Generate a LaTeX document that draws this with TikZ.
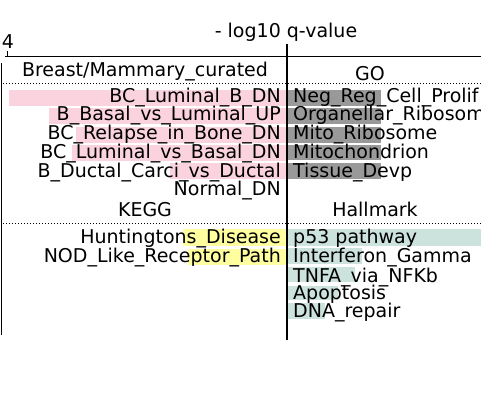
\documentclass[tikz,border=0pt]{standalone}
\usepackage{fontspec}
\setmainfont{DejaVu Sans}
\definecolor{pinkbar}{RGB}{250,211,223}
\definecolor{graybar}{RGB}{153,153,153}
\definecolor{yellowbar}{RGB}{255,255,160}
\definecolor{tealbar}{RGB}{204,227,221}
\begin{document}
\begin{tikzpicture}[x=1pt,y=-1pt,
	lbl/.style={inner sep=0pt,font=\fontsize{19}{19}\selectfont},
	rlbl/.style={lbl,anchor=base east},
	llbl/.style={lbl,anchor=base west},
	hdr/.style={lbl,anchor=base},
	sep/.style={dotted,line width=1pt}]
\clip (0,0) rectangle (481,410);
% bars
\foreach \l/\t/\b in {9/90/106,49/108/124,76/127/143,72/145/161,170/163/179}
	\fill[pinkbar] (\l,\t) rectangle (287,\b);
\foreach \t/\b in {90/106,108/124,127/143,145/160,163/179}
	\fill[graybar] (287,\t) rectangle (381,\b);
\foreach \l/\t/\b in {183/229/246,188/249/265}
	\fill[yellowbar] (\l,\t) rectangle (287,\b);
\foreach \r/\t/\b in {481/229/246,362/248/264,355/267/282,338/286/300,325/303/319}
	\fill[tealbar] (287,\t) rectangle (\r,\b);
% axis
\coordinate (tl) at (5,56.5);
\coordinate (tr) at (481,56.5);
\coordinate (tk) at (7,51);
\coordinate (tkb) at (7,57);
\coordinate (ct) at (287,44);
\coordinate (cb) at (287,340);
\coordinate (lt) at (1.5,63);
\coordinate (lb) at (1.5,335);
\draw[line width=1.5pt] (tl) -- (tr);
\draw[line width=1pt] (tk) -- (tkb);
\draw[line width=2pt] (ct) -- (cb);
\draw[line width=1.5pt] (lt) -- (lb);
\coordinate (d1l) at (3,83);
\coordinate (d1r) at (481,83);
\coordinate (d2l) at (3,223);
\coordinate (d2r) at (481,223);
\draw[sep] (d1l) -- (d1r);
\draw[sep] (d2l) -- (d2r);
% headers
\node[hdr] (title) at (286,37) {- log10 q-value};
\node[hdr] (tick) at (8,48) {4};
\node[hdr] (breast) at (145,76) {Breast/Mammary\_curated};
\node[hdr] (go) at (370,80) {GO};
\node[hdr] (kegg) at (145,216) {KEGG};
\node[hdr] (hallmark) at (375,216) {Hallmark};
% row labels
\foreach \n/\y/\txt in {1/102/BC\_Luminal\_B\_DN,2/120/B\_Basal\_vs\_Luminal\_UP,3/139/BC\_Relapse\_in\_Bone\_DN,4/158/BC\_Luminal\_vs\_Basal\_DN,5/177/B\_Ductal\_Carci\_vs\_Ductal,6/195/Normal\_DN}
	\node[rlbl] (br\n) at (281,\y) {\txt};
\foreach \n/\y/\txt in {1/102/Neg\_Reg\_Cell\_Prolif,2/120/Organellar\_Ribosome,3/139/Mito\_Ribosome,4/158/Mitochondrion,5/177/Tissue\_Devp}
	\node[llbl] (go\n) at (293,\y) {\txt};
\foreach \n/\y/\txt in {1/243/Huntingtons\_Disease,2/262/NOD\_Like\_Receptor\_Path}
	\node[rlbl] (kg\n) at (281,\y) {\txt};
\foreach \n/\y/\txt in {1/243/p53 pathway,2/262/Interferon\_Gamma,3/282/TNFA\_via\_NFKb,4/299/Apoptosis,5/317/DNA\_repair}
	\node[llbl] (hm\n) at (293,\y) {\txt};
\end{tikzpicture}
\end{document}
